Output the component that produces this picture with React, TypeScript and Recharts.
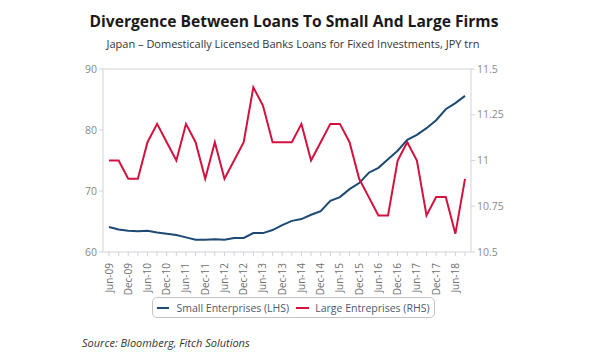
import React from "react";
import { LineChart, Line, XAxis, YAxis, ReferenceLine } from "recharts";

const quarters: string[] = [
  "Jun-09", "Sep-09", "Dec-09", "Mar-10", "Jun-10", "Sep-10", "Dec-10", "Mar-11",
  "Jun-11", "Sep-11", "Dec-11", "Mar-12", "Jun-12", "Sep-12", "Dec-12", "Mar-13",
  "Jun-13", "Sep-13", "Dec-13", "Mar-14", "Jun-14", "Sep-14", "Dec-14", "Mar-15",
  "Jun-15", "Sep-15", "Dec-15", "Mar-16", "Jun-16", "Sep-16", "Dec-16", "Mar-17",
  "Jun-17", "Sep-17", "Dec-17", "Mar-18", "Jun-18", "Sep-18",
];

const smallEnterprises: number[] = [
  64.1, 63.7, 63.5, 63.4, 63.5, 63.2, 63.0, 62.8, 62.4, 62.0, 62.0, 62.1, 62.0,
  62.3, 62.3, 63.1, 63.1, 63.6, 64.4, 65.1, 65.4, 66.1, 66.7, 68.4, 69.0, 70.3,
  71.3, 73.0, 73.8, 75.2, 76.6, 78.4, 79.2, 80.3, 81.6, 83.4, 84.4, 85.6,
];

const largeEnterprises: number[] = [
  11.0, 11.0, 10.9, 10.9, 11.1, 11.2, 11.1, 11.0, 11.2, 11.1, 10.9, 11.1, 10.9,
  11.0, 11.1, 11.4, 11.3, 11.1, 11.1, 11.1, 11.2, 11.0, 11.1, 11.2, 11.2, 11.1,
  10.9, 10.8, 10.7, 10.7, 11.0, 11.1, 11.0, 10.7, 10.8, 10.8, 10.6, 10.9,
];

const leftTicks: number[] = [60, 70, 80, 90];
const rightTicks: number[] = [10.5, 10.75, 11, 11.25, 11.5];

const data = quarters.map((q, i) => ({
  q,
  small: smallEnterprises[i],
  large: largeEnterprises[i],
}));

const BLUE = "#1c4a73";
const RED = "#d3133f";
const AXIS = "#cfd3da";
const FONT = "'Open Sans', sans-serif";

const XTick = (props: any) => {
  const { x, y, payload, index } = props;
  if (index % 2 !== 0) return null;
  return (
    <text
      x={x}
      y={y + 5}
      transform={`rotate(-90 ${x} ${y + 5})`}
      textAnchor="end"
      dy="0.35em"
      fontSize={10}
      fill="#6f6f6f"
      fontFamily={FONT}
    >
      {payload.value}
    </text>
  );
};

export default function App() {
  return (
    <div style={{ position: "absolute", left: 0, top: 0, width: 599, height: 359, background: "#fff", fontFamily: FONT }}>
      <div
        style={{
          position: "absolute",
          left: 0,
          top: 10,
          width: 588,
          textAlign: "center",
          fontSize: 15.6,
          fontWeight: 700,
          color: "#1a1a1a",
          whiteSpace: "nowrap",
        }}
      >
        Divergence Between Loans To Small And Large Firms
      </div>
      <div
        style={{
          position: "absolute",
          left: 0,
          top: 36,
          width: 586,
          textAlign: "center",
          fontSize: 11,
          color: "#333",
          whiteSpace: "nowrap",
        }}
      >
        Japan – Domestically Licensed Banks Loans for Fixed Investments, JPY trn
      </div>
      <div style={{ position: "absolute", left: 0, top: 0 }}>
        <LineChart
          width={599}
          height={359}
          data={data}
          margin={{ top: 69, right: 78, bottom: 62, left: 63 }}
        >
          <XAxis
            dataKey="q"
            interval={0}
            tick={<XTick />}
            tickLine={{ stroke: AXIS }}
            axisLine={{ stroke: AXIS }}
            tickSize={4}
            height={45}
            padding={{ left: 6, right: 6 }}
          />
          <YAxis
            yAxisId="left"
            domain={[60, 90]}
            ticks={leftTicks}
            width={40}
            tick={{ fontSize: 10.5, fill: "#8a8a8a", fontFamily: FONT }}
            tickLine={{ stroke: AXIS }}
            axisLine={{ stroke: AXIS }}
            tickSize={4}
          />
          <YAxis
            yAxisId="right"
            orientation="right"
            domain={[10.5, 11.5]}
            ticks={rightTicks}
            width={50}
            tick={{ fontSize: 10.5, fill: "#8a8a8a", fontFamily: FONT }}
            tickLine={{ stroke: AXIS }}
            axisLine={{ stroke: AXIS }}
            tickSize={4}
          />
          <ReferenceLine yAxisId="left" y={90} stroke={AXIS} />
          <Line
            yAxisId="left"
            dataKey="small"
            stroke={BLUE}
            strokeWidth={2}
            dot={false}
            isAnimationActive={false}
          />
          <Line
            yAxisId="right"
            dataKey="large"
            stroke={RED}
            strokeWidth={2}
            dot={false}
            isAnimationActive={false}
          />
        </LineChart>
      </div>
      <div
        style={{
          position: "absolute",
          left: 152,
          top: 297,
          width: 283,
          height: 21,
          display: "flex",
          justifyContent: "center",
          alignItems: "center",
          border: "1px solid #c4c4c4",
          borderRadius: 5,
          fontSize: 10.5,
          color: "#4a5a70",
          boxSizing: "border-box",
          whiteSpace: "nowrap",
        }}
      >
        <span style={{ display: "inline-block", width: 12, height: 2, background: BLUE, marginRight: 7 }} />
        <span style={{ marginRight: 7 }}>Small Enterprises (LHS)</span>
        <span style={{ display: "inline-block", width: 13, height: 2, background: RED, marginRight: 6 }} />
        <span>Large Entreprises (RHS)</span>
      </div>
      <div
        style={{
          position: "absolute",
          left: 82,
          top: 335,
          fontSize: 11,
          fontStyle: "italic",
          color: "#333",
          whiteSpace: "nowrap",
        }}
      >
        Source: Bloomberg, Fitch Solutions
      </div>
    </div>
  );
}
